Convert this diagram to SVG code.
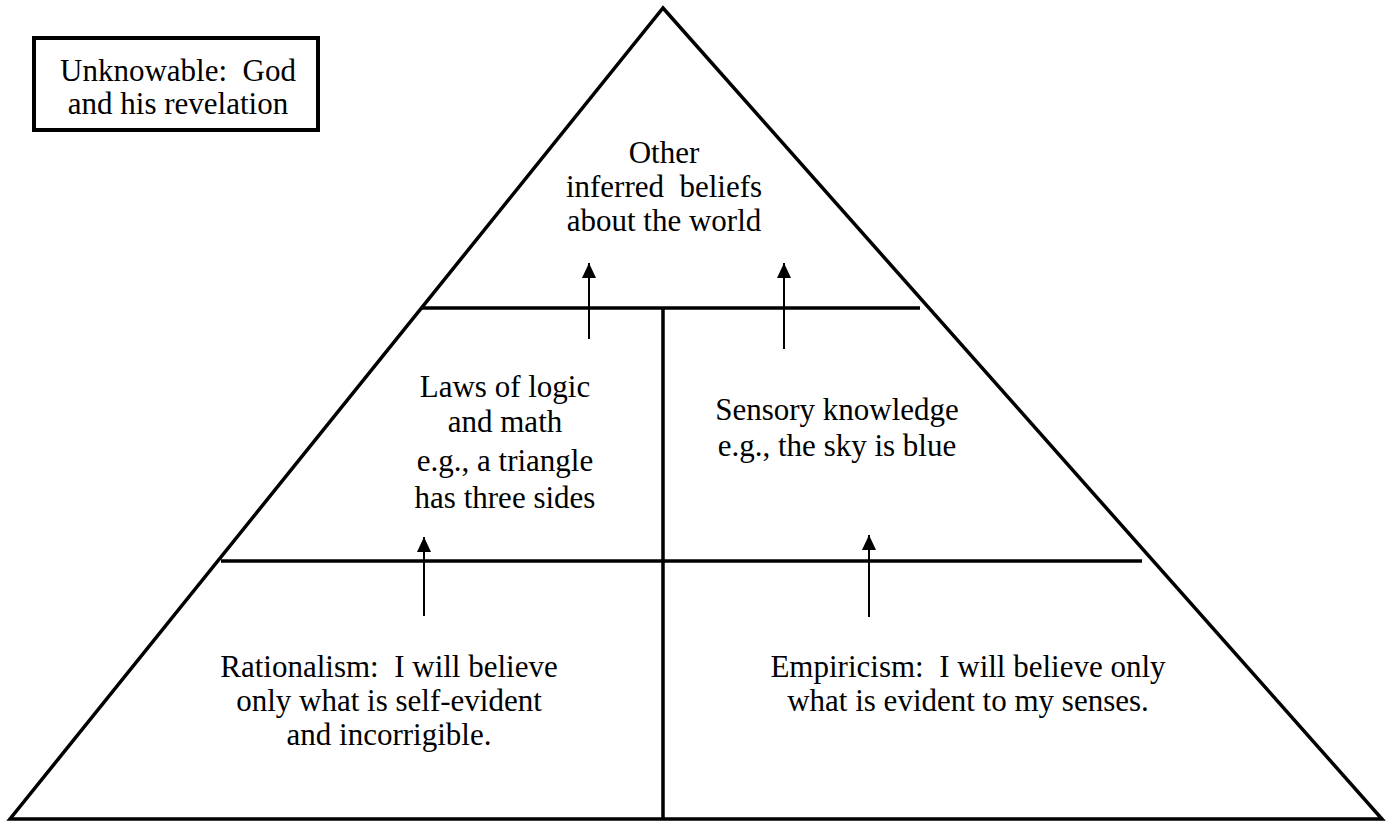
<svg xmlns="http://www.w3.org/2000/svg" width="1391" height="821" viewBox="0 0 1391 821">
<style>
.ln{stroke:#000;stroke-width:3.5;fill:none}
.ar{stroke:#000;stroke-width:2;fill:none}
.t{font-family:"Liberation Serif","Times New Roman",serif;font-size:31px;fill:#000;text-anchor:middle;white-space:pre}
</style>
<defs>
<marker id="ah" markerUnits="userSpaceOnUse" markerWidth="16" markerHeight="16" viewBox="0 0 16 16" refX="15" refY="8" orient="auto">
<path d="M0,1 L15,8 L0,15 Z" fill="#000"/>
</marker>
</defs>
<rect width="1391" height="821" fill="#fff"/>
<g id="pyramid">
<polygon class="ln" points="663,8 1382,819 10,819"/>
<line class="ln" x1="422" y1="308" x2="920" y2="308"/>
<line class="ln" x1="221" y1="561" x2="1142" y2="561"/>
<line class="ln" x1="663" y1="308" x2="663" y2="819"/>
</g>
<g id="connectors">
<line class="ar" x1="589" y1="339" x2="589" y2="263" marker-end="url(#ah)"/>
<line class="ar" x1="784" y1="349" x2="784" y2="263" marker-end="url(#ah)"/>
<line class="ar" x1="424" y1="616" x2="424" y2="537" marker-end="url(#ah)"/>
<line class="ar" x1="869" y1="617" x2="869" y2="535" marker-end="url(#ah)"/>
</g>
<g id="unknowable">
<rect x="34" y="38" width="284" height="92" fill="#fff" stroke="#000" stroke-width="4"/>
<text class="t" x="178" y="81">Unknowable:  God</text>
<text class="t" x="178" y="114">and his revelation</text>
</g>
<g id="other">
<text class="t" x="664" y="163">Other</text>
<text class="t" x="664" y="197">inferred  beliefs</text>
<text class="t" x="664" y="231">about the world</text>
</g>
<g id="laws">
<text class="t" x="505" y="397">Laws of logic</text>
<text class="t" x="505" y="432">and math</text>
<text class="t" x="505" y="471">e.g., a triangle</text>
<text class="t" x="505" y="508">has three sides</text>
</g>
<g id="sensory">
<text class="t" x="837" y="420">Sensory knowledge</text>
<text class="t" x="837" y="456">e.g., the sky is blue</text>
</g>
<g id="rationalism">
<text class="t" x="389" y="677">Rationalism:  I will believe</text>
<text class="t" x="389" y="711">only what is self-evident</text>
<text class="t" x="389" y="745">and incorrigible.</text>
</g>
<g id="empiricism">
<text class="t" x="968" y="677">Empiricism:  I will believe only</text>
<text class="t" x="968" y="711">what is evident to my senses.</text>
</g>
</svg>
